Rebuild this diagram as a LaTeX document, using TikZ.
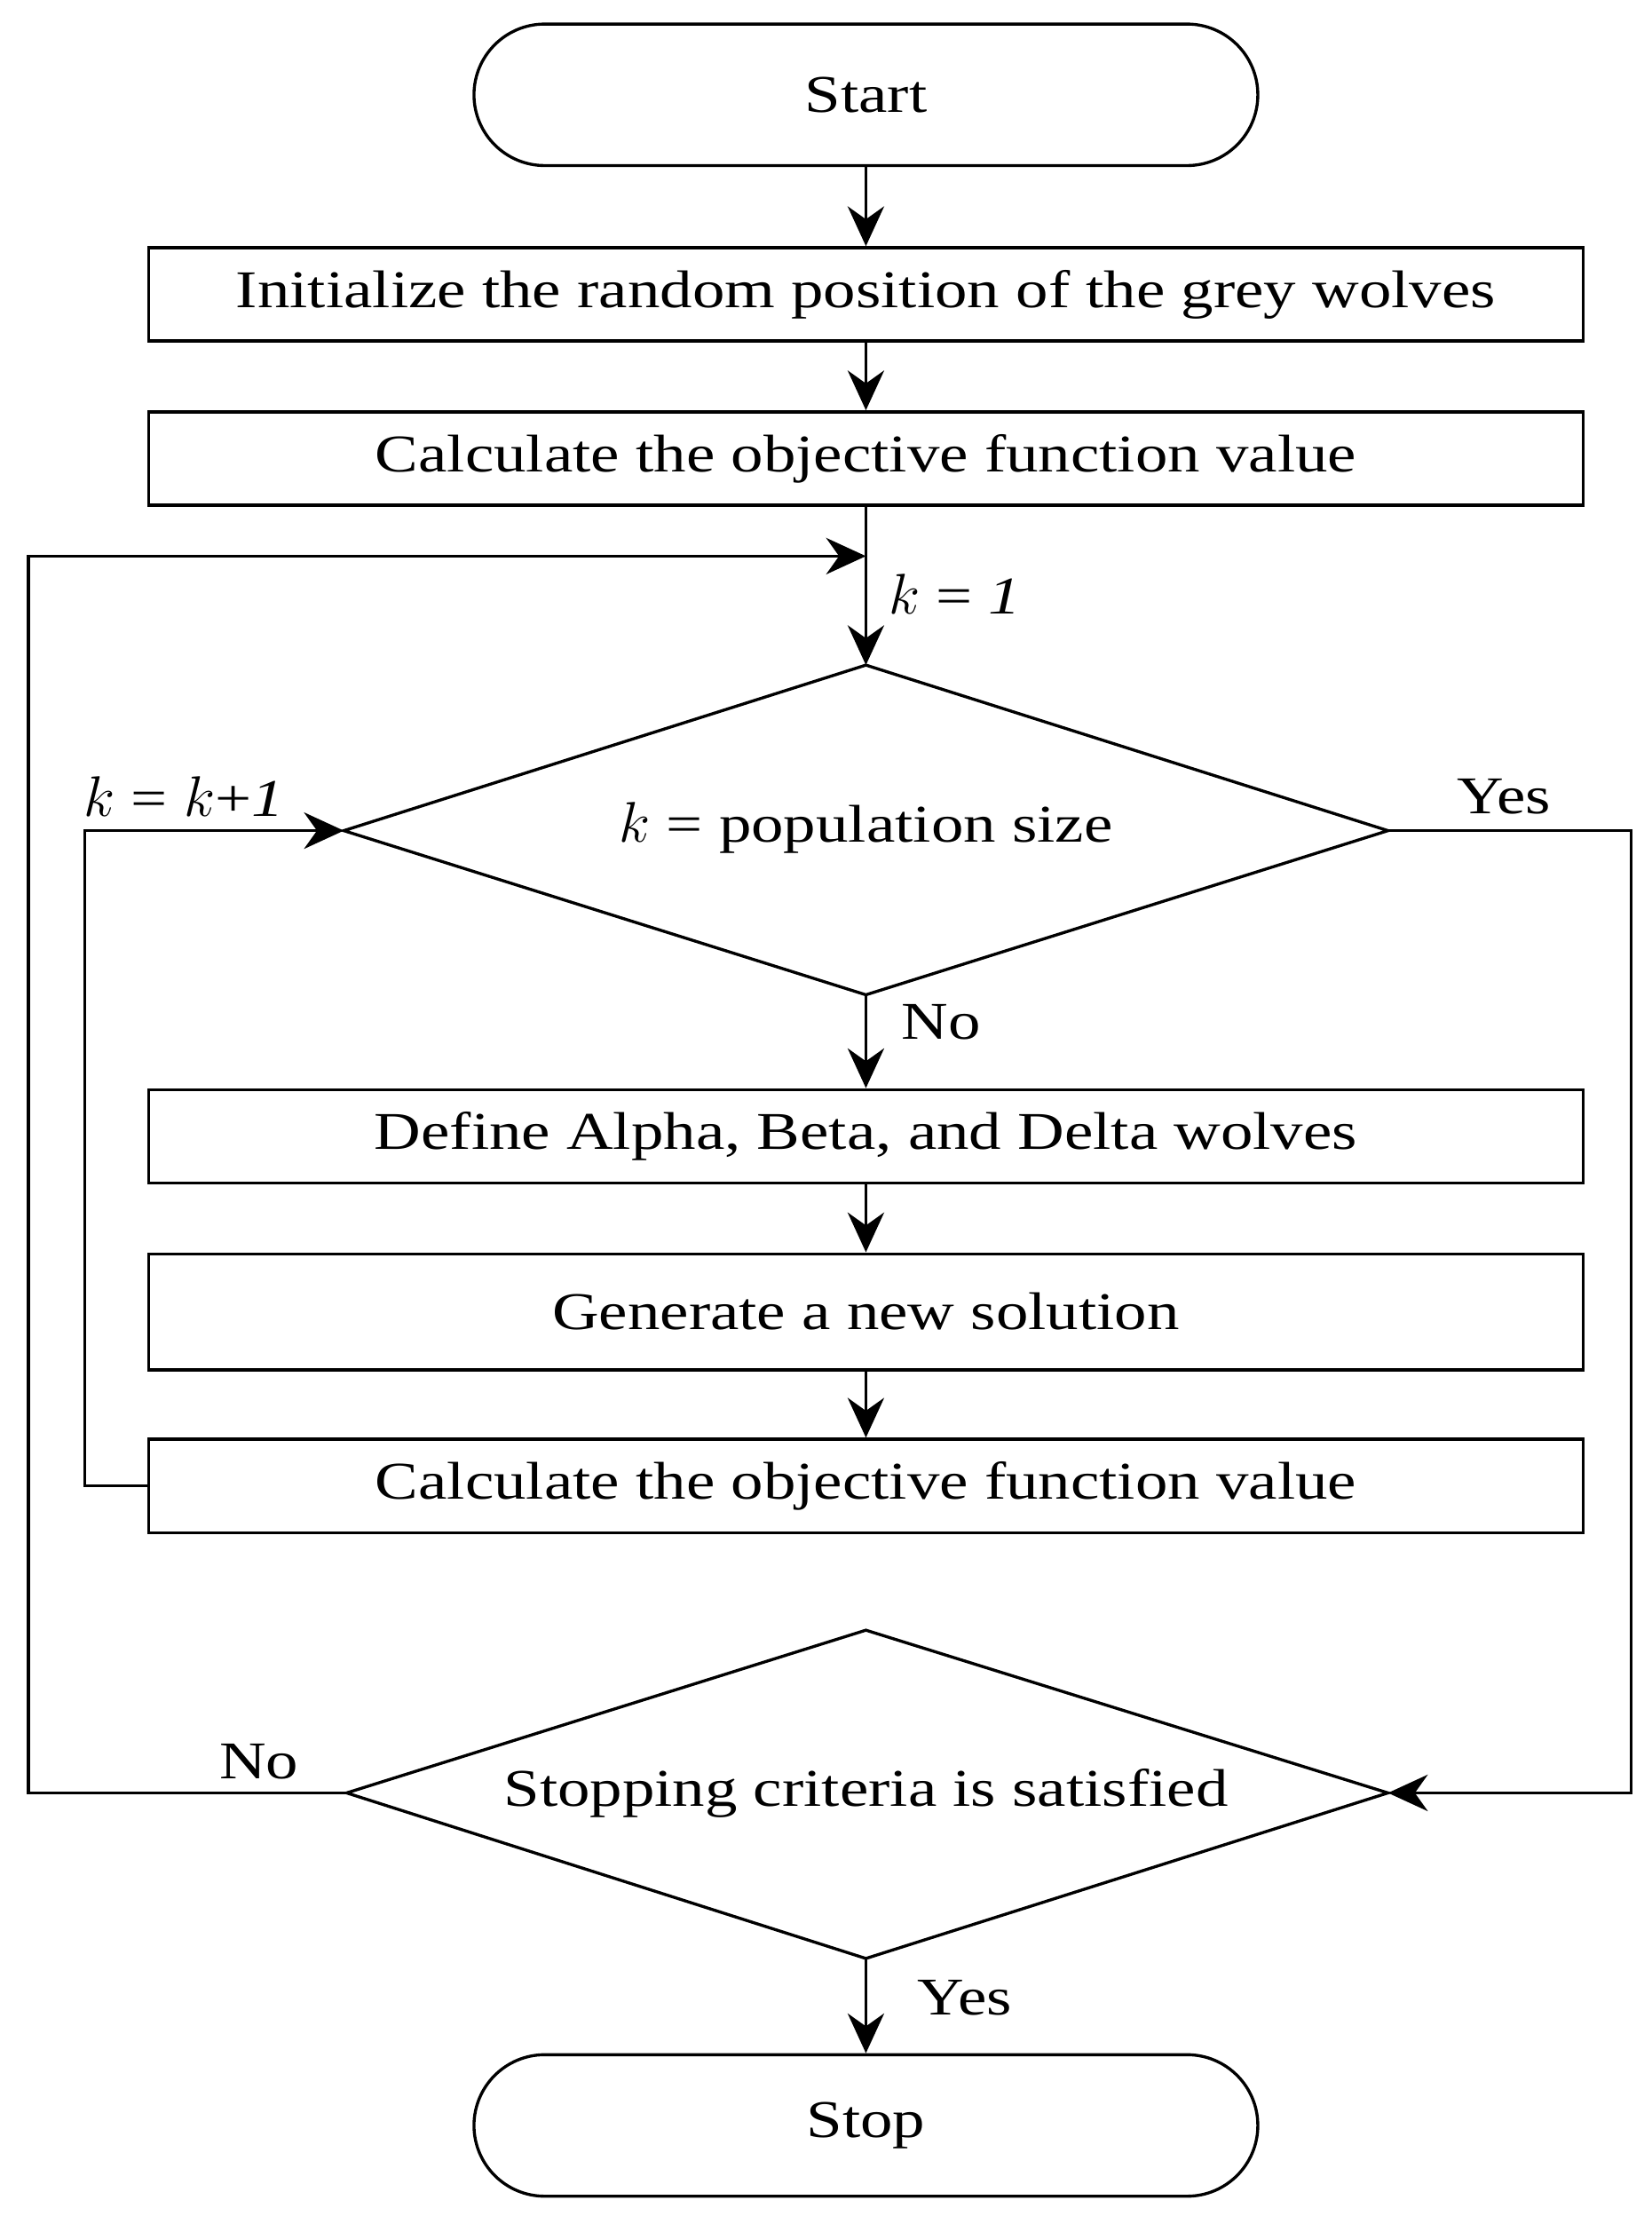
\documentclass[tikz,border=0pt]{standalone}
\usepackage{fontspec}
\setmainfont{Liberation Serif}[FakeStretch=1.22]
\usetikzlibrary{arrows.meta,shapes.geometric}
\begin{document}
\begin{tikzpicture}[x=0.015cm,y=-0.015cm,font=\fontsize{16}{19}\selectfont]
	\tikzstyle{T} = [draw,rounded corners=50*0.015cm,minimum width=554*0.015cm,minimum height=100*0.015cm,line width=0.9pt]
	\tikzstyle{B} = [draw,minimum width=1014*0.015cm,minimum height=66*0.015cm,line width=0.9pt]
	\tikzstyle{arr} = [-{Stealth[length=12pt,width=11pt]},line width=0.9pt]
	\tikzstyle{ln} = [line width=0.9pt]
	\useasboundingbox (0,0) rectangle (1167,1566);
	\node[T](start) at (612,67) {Start};
	\node[B](init) at (612,208) {Initialize the random position of the grey wolves};
	\node[B](obj1) at (612,324) {Calculate the objective function value};
	\coordinate (d1t) at (612,470);
	\coordinate (d1b) at (612,703);
	\coordinate (d1l) at (243,587);
	\coordinate (d1r) at (981,587);
	\draw[ln](d1t) -- (d1r) -- (d1b) -- (d1l) -- cycle;
	\node(pop) at (612,585) {$k$ = population size};
	\node[B](def) at (612,803) {Define Alpha, Beta, and Delta wolves};
	\node[B,minimum height=82*0.015cm](gen) at (612,927) {Generate a new solution};
	\node[B](obj2) at (612,1050) {Calculate the objective function value};
	\coordinate (d2t) at (612,1152);
	\coordinate (d2b) at (612,1384);
	\coordinate (d2l) at (245,1267);
	\coordinate (d2r) at (981,1267);
	\draw[ln](d2t) -- (d2r) -- (d2b) -- (d2l) -- cycle;
	\node(stop) at (612,1267) {Stopping criteria is satisfied};
	\node[T](end) at (612,1502) {Stop};
	\coordinate (m) at (612,393);
	% arrows
	\draw[arr](start) -- (init);
	\draw[arr](init) -- (obj1);
	\draw[arr](obj1) -- (d1t);
	\draw[arr](d1b) -- (def);
	\draw[arr](def) -- (gen);
	\draw[arr](gen) -- (obj2);
	\draw[arr](obj2.west) -- (60,1050) -- (60,587) -- (d1l);
	\draw[arr](d1r) -- (1153,587) -- (1153,1267) -- (d2r);
	\draw[arr](d2l) -- (20,1267) -- (20,393) -- (m);
	\draw[arr](d2b) -- (end);
	% labels
	\node at (675,420) {$k$ = \textit{1}};
	\node at (130,563) {$k$ = $k$+\textit{1}};
	\node at (1063,563) {Yes};
	\node at (665,722) {No};
	\node at (183,1245) {No};
	\node at (682,1412) {Yes};
\end{tikzpicture}
\end{document}
